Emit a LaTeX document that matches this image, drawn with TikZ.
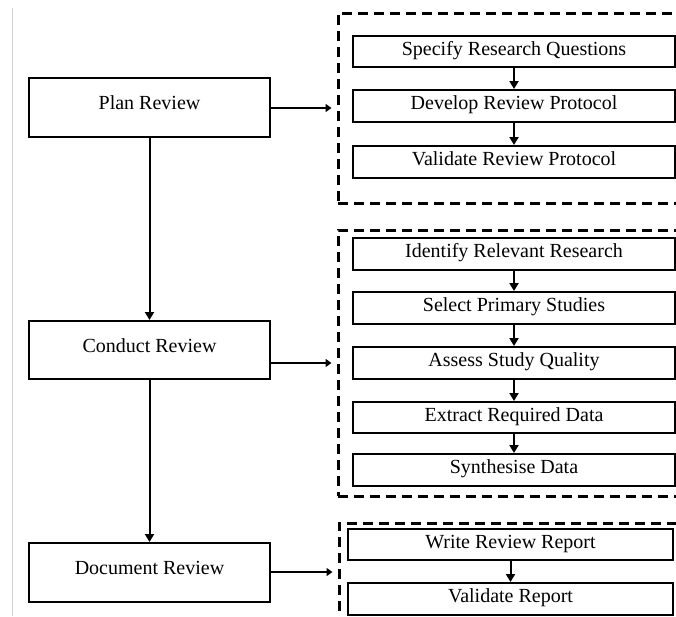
\documentclass[tikz,border=0pt]{standalone}
\usepackage{fontspec}
\setmainfont{Liberation Serif}
\usetikzlibrary{arrows.meta}
\tikzset{
  mainbox/.style={draw, line width=2pt, rectangle, minimum width=241pt, inner sep=0pt, text height=14pt, text depth=10pt, font=\fontsize{20}{24}\selectfont},
  subbox/.style={draw, line width=2pt, rectangle, inner sep=0pt, text height=14pt, text depth=7pt, font=\fontsize{20}{24}\selectfont},
  group/.style={draw, dash pattern=on 10pt off 6pt, line width=3pt, rectangle, inner sep=0pt},
  arr/.style={line width=2pt, -{Triangle[length=8pt,width=9pt]}},
  harr/.style={line width=2pt, -{Triangle[length=6pt,width=8pt]}, shorten >=5pt}
}
\begin{document}
\begin{tikzpicture}[x=1pt,y=-1pt]
\useasboundingbox (0,0) rectangle (676,616);
\draw[gray!35, line width=0.8pt] (12,8) -- (12,616);
% main boxes
\node[mainbox, minimum height=59pt] (plan) at (149.5,107) {Plan Review};
\node[mainbox, minimum height=58pt] (conduct) at (149.5,350) {Conduct Review};
\node[mainbox, minimum height=59pt] (document) at (149.5,572.5) {Document Review};
% groups
\node[group, minimum width=352pt, minimum height=190pt] (g1) at (514,108) {};
\node[group, minimum width=352pt, minimum height=266pt] (g2) at (514,363) {};
\node[group, minimum width=352pt, minimum height=98pt] (g3) at (515,572) {};
% group 1
\node[subbox, minimum width=322pt, minimum height=31pt] (s1) at (514,51.5) {Specify Research Questions};
\node[subbox, minimum width=322pt, minimum height=32pt] (s2) at (514,106) {Develop Review Protocol};
\node[subbox, minimum width=322pt, minimum height=32pt] (s3) at (514,162) {Validate Review Protocol};
% group 2
\node[subbox, minimum width=322pt, minimum height=32pt] (c1) at (514,254) {Identify Relevant Research};
\node[subbox, minimum width=322pt, minimum height=32pt] (c2) at (514,308) {Select Primary Studies};
\node[subbox, minimum width=322pt, minimum height=32pt] (c3) at (514,363) {Assess Study Quality};
\node[subbox, minimum width=322pt, minimum height=31pt] (c4) at (514,417.5) {Extract Required Data};
\node[subbox, minimum width=322pt, minimum height=32pt] (c5) at (514,470) {Synthesise Data};
% group 3
\node[subbox, minimum width=325pt, minimum height=31pt] (d1) at (510.5,544.5) {Write Review Report};
\node[subbox, minimum width=325pt, minimum height=32pt] (d2) at (510.5,599) {Validate Report};
% arrows
\draw[arr] (plan) -- (conduct);
\draw[arr] (conduct) -- (document);
\draw[harr] (plan.east |- g1.west) -- (g1.west);
\draw[harr] (conduct.east |- g2.west) -- (g2.west);
\draw[harr] (document.east |- g3.west) -- (g3.west);
\draw[arr] (s1) -- (s2);
\draw[arr] (s2) -- (s3);
\draw[arr] (c1) -- (c2);
\draw[arr] (c2) -- (c3);
\draw[arr] (c3) -- (c4);
\draw[arr] (c4) -- (c5);
\draw[arr] (d1) -- (d2);
\end{tikzpicture}
\end{document}
